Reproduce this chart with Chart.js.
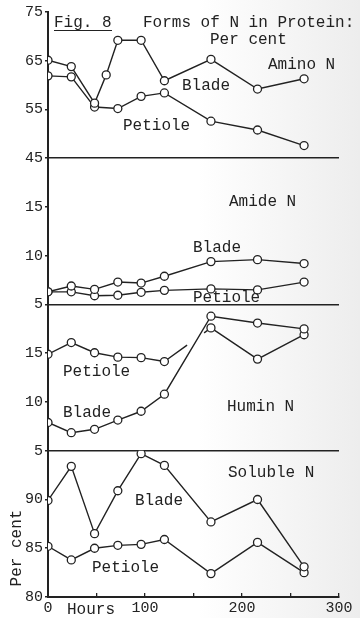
<!DOCTYPE html>
<html>
<head>
<meta charset="utf-8">
<script src="https://cdn.jsdelivr.net/npm/chart.js@4.4.1/dist/chart.umd.min.js"></script>
<style>
html, body { margin: 0; padding: 0; }
body { width: 360px; height: 618px; background: linear-gradient(to right, #ffffff 55%, #ededed); }
canvas { display: block; }
</style>
</head>
<body>
<canvas id="fig8" width="360" height="618"></canvas>
<script>
// sampling times (hours)
hours = [0, 24, 48, 72, 96, 120, 168, 216, 264]
// the amino N blade curve has one extra sample around 60 h
aminoBladeHours = [0, 24, 48, 60, 72, 96, 120, 168, 216, 264]

// per cent of protein N
aminoBlade = [65.1, 63.8, 56.3, 62.1, 69.2, 69.2, 60.9, 65.3, 59.2, 61.3]
aminoPetiole = [61.9, 61.7, 55.5, 55.2, 57.7, 58.4, 52.6, 50.8, 47.6]

amideBlade = [6.3, 6.9, 6.55, 7.3, 7.2, 7.9, 9.4, 9.6, 9.2]
amidePetiole = [6.3, 6.3, 5.9, 5.95, 6.25, 6.45, 6.6, 6.5, 7.3]

huminBlade = [7.9, 6.85, 7.2, 8.15, 9.05, 10.8, 18.8, 18.1, 17.5]
huminPetiole = [14.9, 16.1, 15.05, 14.6, 14.55, 14.15, 17.6, 14.4, 16.9]

solubleBlade = [89.9, 93.4, 86.5, 90.9, 94.7, 93.5, 87.7, 90.0, 83.1]
solublePetiole = [85.2, 83.8, 85.0, 85.3, 85.4, 85.9, 82.4, 85.6, 82.5]

// axis ranges of the four stacked panels
aminoRange = [45, 75]
amideRange = [5, 20]
huminRange = [5, 20]
solubleRange = [80, 95]
hourRange = [0, 300]

ink = '#222'
mono = '"Liberation Mono", "DejaVu Sans Mono", monospace'
tickFont = { family: mono, size: 15 }

function series(xs, ys, axis, extra) {
  return Object.assign({
    data: xs.map((h, i) => ({ x: h, y: ys[i] })),
    yAxisID: axis,
    borderColor: ink,
    borderWidth: 1.4,
    pointRadius: 4,
    pointBackgroundColor: '#fff',
    pointBorderColor: ink,
    pointBorderWidth: 1.3,
    tension: 0
  }, extra || {})
}

function panelAxis(range, step, keepTop) {
  return {
    type: 'linear',
    position: 'left',
    stack: 'panels',
    stackWeight: 1,
    min: range[0],
    max: range[1],
    ticks: { stepSize: step, color: ink, font: tickFont, padding: 2 },
    afterBuildTicks: s => {
      if (!keepTop) s.ticks = s.ticks.filter(t => t.value < s.max)
    },
    afterFit: s => { s.width = 48 },
    border: { color: ink, width: 2 },
    grid: {
      color: c => (c.tick && c.tick.value === range[0]) ? ink : 'rgba(0,0,0,0)',
      lineWidth: 1.6,
      tickColor: ink,
      tickLength: 3
    }
  }
}

// text written on the figure
notes = [
  ['Fig. 8', 54, 23],
  ['Forms of N in Protein:', 143, 23],
  ['Per cent', 210, 40],
  ['Amino N', 268, 65],
  ['Blade', 182, 86],
  ['Petiole', 123, 126],
  ['Amide N', 229, 202],
  ['Blade', 193, 248],
  ['Petiole', 193, 298],
  ['Petiole', 63, 372],
  ['Blade', 63, 413],
  ['Humin N', 227, 407],
  ['Soluble N', 228, 473],
  ['Blade', 135, 501],
  ['Petiole', 92, 568],
  ['Hours', 67, 610]
]

textPlugin = {
  id: 'notes',
  afterDraw(chart) {
    const ctx = chart.ctx
    ctx.save()
    ctx.fillStyle = ink
    ctx.font = '16px ' + mono
    ctx.textBaseline = 'middle'
    ctx.textAlign = 'left'
    notes.forEach(n => ctx.fillText(n[0], n[1], n[2]))
    // underline under Fig. 8
    ctx.strokeStyle = ink
    ctx.lineWidth = 1.2
    ctx.beginPath()
    ctx.moveTo(54, 30.5)
    ctx.lineTo(112, 30.5)
    ctx.stroke()
    // y title
    ctx.translate(17, 548)
    ctx.rotate(-Math.PI / 2)
    ctx.textAlign = 'center'
    ctx.fillText('Per cent', 0, 0)
    ctx.restore()
  }
}

config = {
  type: 'line',
  data: {
    datasets: [
      series(aminoBladeHours, aminoBlade, 'yAmino'),
      series(hours, aminoPetiole, 'yAmino'),
      series(hours, amideBlade, 'yAmide'),
      series(hours, amidePetiole, 'yAmide'),
      series(hours, huminBlade, 'yHumin'),
      series(hours, huminPetiole, 'yHumin', {
        // the petiole line is broken where it crosses the blade line
        segment: { borderDash: c => c.p0DataIndex === 5 ? [28, 21] : undefined }
      }),
      series(hours, solubleBlade, 'ySoluble'),
      series(hours, solublePetiole, 'ySoluble')
    ]
  },
  options: {
    responsive: false,
    animation: false,
    layout: { padding: { top: 12, right: 21, left: 0, bottom: 0 } },
    plugins: { legend: { display: false }, tooltip: { enabled: false } },
    scales: {
      x: {
        type: 'linear',
        min: hourRange[0],
        max: hourRange[1],
        ticks: {
          stepSize: 50,
          color: ink,
          font: tickFont,
          padding: 6,
          maxRotation: 0,
          callback: v => v % 100 === 0 ? String(v) : ''
        },
        afterFit: s => { s.height = 21 },
        border: { color: ink, width: 2 },
        grid: { drawOnChartArea: false, tickColor: ink, tickLength: -4, lineWidth: 1.3 }
      },
      ySoluble: panelAxis(solubleRange, 5, false),
      yHumin: panelAxis(huminRange, 5, false),
      yAmide: panelAxis(amideRange, 5, false),
      yAmino: panelAxis(aminoRange, 10, true)
    }
  },
  plugins: [textPlugin]
}

var fig = new Chart(document.getElementById('fig8'), config)
</script>
</body>
</html>
